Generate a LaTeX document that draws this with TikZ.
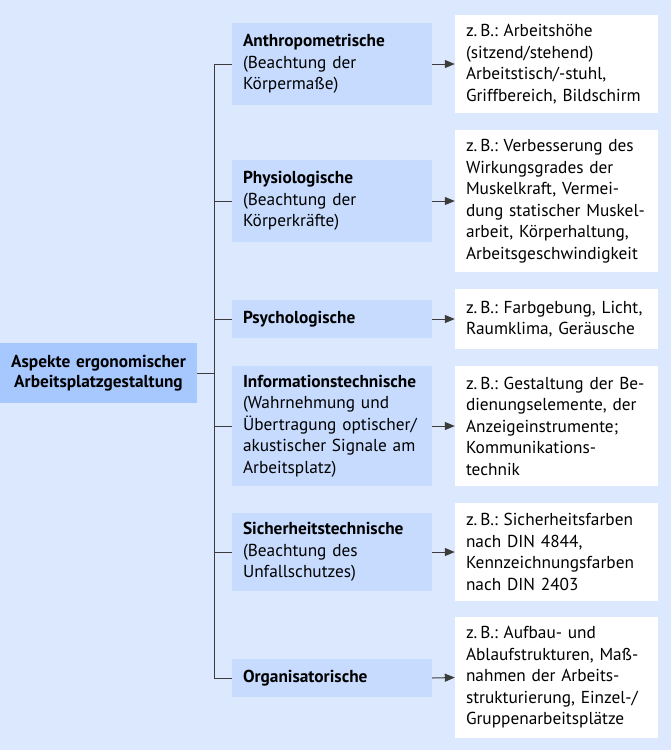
\documentclass[tikz,border=0pt]{standalone}
\usepackage{fontspec}
\setmainfont{PT Sans}
\usetikzlibrary{arrows.meta}
\definecolor{bgc}{RGB}{220,232,254}
\definecolor{midc}{RGB}{198,219,254}
\definecolor{rootc}{RGB}{166,200,255}
\definecolor{linec}{RGB}{60,60,60}
\begin{document}
\frenchspacing
\begin{tikzpicture}[x=1pt,y=-1pt,
  font=\fontsize{17.3}{21.5}\selectfont,
  midbox/.style={fill=midc, text width=178pt, inner xsep=11pt, inner ysep=0pt, align=left, anchor=center},
  rightbox/.style={fill=white, text width=181pt, inner xsep=11pt, inner ysep=0pt, align=left, anchor=center},
  rootbox/.style={fill=rootc, text width=191pt, inner xsep=3pt, inner ysep=0pt, align=center, anchor=center, font=\fontsize{17.3}{20.5}\selectfont\bfseries},
  conn/.style={draw=linec, line width=1pt},
  arr/.style={conn, -{Triangle[length=10pt,width=8pt]}}]
\fill[bgc] (0,0) rectangle (671,750);
\useasboundingbox (0,0) rectangle (671,750);

\node[rootbox, minimum height=60pt] (root) at (98.5,373) {Aspekte ergonomischer\\Arbeitsplatzgestaltung};

\node[midbox, minimum height=82pt] (A) at (332,64) {\textbf{Anthropometrische}\\(Beachtung der\\Körpermaße)};
\node[midbox, minimum height=82pt] (P) at (332,201) {\textbf{Physiologische}\\(Beachtung der\\Körperkräfte)};
\node[midbox, minimum height=38pt] (Ps) at (332,319) {\textbf{Psychologische}};
\node[midbox, minimum height=120pt] (I) at (332,426) {\textbf{Informationstechnische}\\(Wahrnehmung und\\Übertragung optischer/\\akustischer Signale am\\Arbeitsplatz)};
\node[midbox, minimum height=78pt] (S) at (332,552) {\textbf{Sicherheitstechnische}\\(Beachtung des\\Unfallschutzes)};
\node[midbox, minimum height=38pt] (O) at (332,678) {\textbf{Organisatorische}};

\node[rightbox, minimum height=98pt] (R1) at (556.5,64) {z.\,B.: Arbeitshöhe\\(sitzend/stehend)\\Arbeitstisch/-stuhl,\\Griffbereich, Bildschirm};
\node[rightbox, minimum height=142pt] (R2) at (556.5,201) {z.\,B.: Verbesserung des\\Wirkungsgrades der\\Muskelkraft, Vermei-\\dung statischer Muskel-\\arbeit, Körperhaltung,\\Arbeitsgeschwindigkeit};
\node[rightbox, minimum height=60pt] (R3) at (556.5,319) {z.\,B.: Farbgebung, Licht,\\Raumklima, Geräusche};
\node[rightbox, minimum height=120pt] (R4) at (556.5,426) {z.\,B.: Gestaltung der Be-\\dienungselemente, der\\Anzeigeinstrumente;\\Kommunikations-\\technik};
\node[rightbox, minimum height=98pt] (R5) at (556.5,552) {z.\,B.: Sicherheitsfarben\\nach DIN 4844,\\Kennzeichnungsfarben\\nach DIN 2403};
\node[rightbox, minimum height=121pt] (R6) at (556.5,677.5) {z.\,B.: Aufbau- und\\Ablaufstrukturen, Maß-\\nahmen der Arbeits-\\strukturierung, Einzel-/\\Gruppenarbeitsplätze};

\coordinate (ttop) at (214,64);
\coordinate (tbot) at (214,678);
\draw[conn] (A.west) -- (ttop) -- (tbot) -- (O.west);
\foreach \n in {P,Ps,I,S} \draw[conn] (\n.west) -- (\n.west -| ttop);
\draw[conn] (root.east) -- (root.east -| ttop);

\draw[arr] (A.east) -- (R1.west);
\draw[arr] (P.east) -- (R2.west);
\draw[arr] (Ps.east) -- (R3.west);
\draw[arr] (I.east) -- (R4.west);
\draw[arr] (S.east) -- (R5.west);
\draw[arr] (O.east) -- (R6.west);
\end{tikzpicture}
\end{document}
